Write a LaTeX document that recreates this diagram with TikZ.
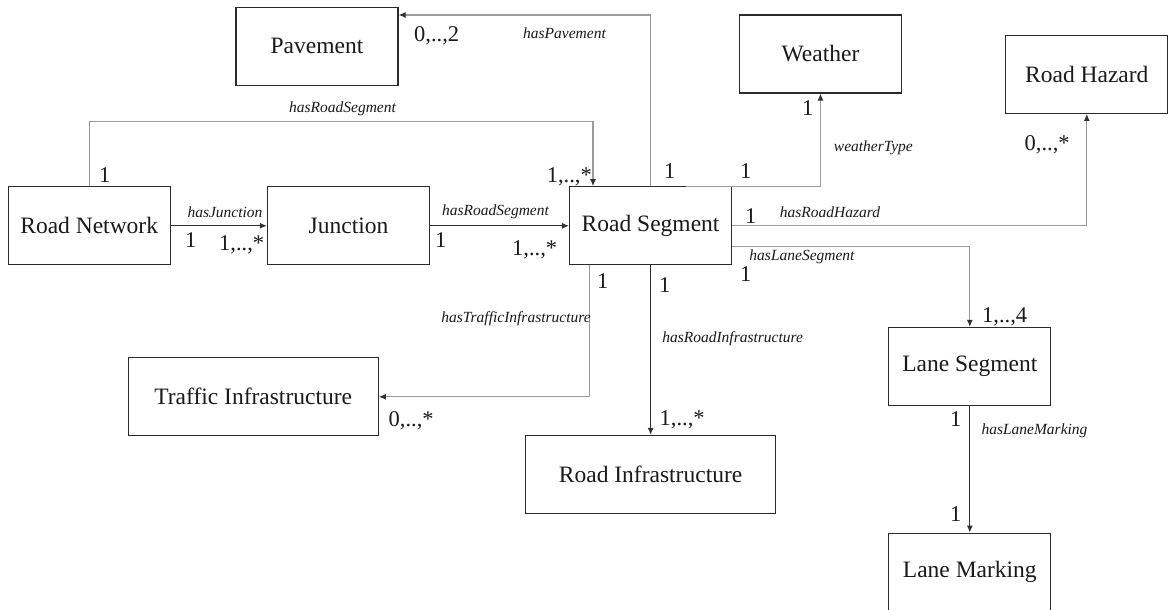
\documentclass[tikz,border=0pt]{standalone}
\usepackage{fontspec}
\setmainfont{Liberation Serif}
\usetikzlibrary{arrows.meta,calc}

\definecolor{boxline}{HTML}{2B2B2B}
\definecolor{darklink}{HTML}{303030}
\definecolor{lightlink}{HTML}{9C9C9C}
\definecolor{ink}{HTML}{1A1A1A}

\tikzset{
  entity/.style={draw=boxline, line width=1.3pt, fill=white, text=ink,
    minimum width=162pt, minimum height=78pt, inner sep=0pt,
    font=\fontsize{23.5}{28}\selectfont},
  wideentity/.style={entity, minimum width=250pt},
  darkrel/.style={draw=darklink, line width=1pt,
    -{Latex[length=7pt,width=6pt]}},
  lightrel/.style={draw=lightlink, line width=1.2pt,
    -{Latex[length=7pt,width=6pt,color=darklink]}},
  role/.style={text=ink, inner sep=0pt, font=\fontsize{15.5}{18}\selectfont\itshape},
  mult/.style={text=ink, inner sep=0pt, font=\fontsize{22.5}{26}\selectfont},
}

\begin{document}
\begin{tikzpicture}[x=1pt, y=-1pt]
\clip (0,0) rectangle (1171,610);
\fill[white] (0,0) rectangle (1171,610);

% classes
\node[entity] (pav) at (317,46.3)   {Pavement};
\node[entity] (wea) at (820.5,53.9) {Weather};
\node[entity] (rh)  at (1086.8,74.2) {Road Hazard};
\node[entity] (rn)  at (89.2,225.8) {Road Network};
\node[entity] (jn)  at (348.5,225.8) {Junction};
\node[entity] (rs)  at (650.6,225.8) {Road Segment};
\node[wideentity] (ti) at (253.2,396.8) {Traffic Infrastructure};
\node[wideentity] (ri) at (650.6,474.5) {Road Infrastructure};
\node[entity] (ls)  at (969.8,366.5) {Lane Segment};
\node[entity] (lm)  at (969.8,572.2) {Lane Marking};

% bend points of the routed associations
\coordinate (rnTop)  at (89.2,121.7);
\coordinate (rsIn)   at (593,121.7);
\coordinate (pavUp)  at (650.6,15);
\coordinate (weaOut) at ($(rs.north west)+(117.3,0)$);
\coordinate (lsOut)  at ($(rs.east)+(0,21)$);
\coordinate (tiOut)  at ($(rs.south west)+(20.8,0)$);

% associations
\draw[lightrel] (rn.north) -- (rnTop) -- (rsIn) -- (rsIn |- rs.north);
\draw[darkrel]  (rn.east) -- (jn.west);
\draw[darkrel]  (jn.east) -- (rs.west);
\draw[lightrel] (rs.north) -- (pavUp) -- (pavUp -| pav.east);
\draw[lightrel] (weaOut) -| (wea.south);
\draw[lightrel] (rs.east) -| (rh.south);
\draw[lightrel] (lsOut) -| (ls.north);
\draw[lightrel] (tiOut) |- (ti.east);
\draw[darkrel]  (rs.south) -- (ri.north);
\draw[darkrel]  (ls.south) -- (lm.north);

% role names
\node[role] (r1)  at (342.5,109) {hasRoadSegment};
\node[role] (r2)  at (225,212)   {hasJunction};
\node[role] (r3)  at (495.5,212) {hasRoadSegment};
\node[role] (r4)  at (564.5,33)  {hasPavement};
\node[role] (r5)  at (873.4,148) {weatherType};
\node[role] (r6)  at (830,212)   {hasRoadHazard};
\node[role] (r7)  at (802,257)   {hasLaneSegment};
\node[role] (r8)  at (516,319)   {hasTrafficInfrastructure};
\node[role] (r9)  at (732.6,338.3) {hasRoadInfrastructure};
\node[role] (r10) at (1034.5,431) {hasLaneMarking};

% multiplicities
\node[mult, anchor=base west] (m1)  at (99,182)    {1};
\node[mult, anchor=base east] (m2)  at (592,182)   {1,..,*};
\node[mult, anchor=base west] (m3)  at (185,247)   {1};
\node[mult, anchor=base west] (m4)  at (219,250.5) {1,..,*};
\node[mult, anchor=base west] (m5)  at (435,247)   {1};
\node[mult, anchor=base west] (m6)  at (512,255)   {1,..,*};
\node[mult, anchor=base west] (m7)  at (414,41.7)  {0,..,2};
\node[mult, anchor=base west] (m8)  at (664,178)   {1};
\node[mult, anchor=base west] (m9)  at (740,178)   {1};
\node[mult, anchor=base west] (m10) at (802,115)   {1};
\node[mult, anchor=base west] (m11) at (1024.5,150) {0,..,*};
\node[mult, anchor=base west] (m12) at (745,223)   {1};
\node[mult, anchor=base west] (m13) at (740,281.7) {1};
\node[mult, anchor=base west] (m14) at (597,288)   {1};
\node[mult, anchor=base west] (m15) at (659,292.7) {1};
\node[mult, anchor=base west] (m16) at (388.5,426.7) {0,..,*};
\node[mult, anchor=base west] (m17) at (659.5,425) {1,..,*};
\node[mult, anchor=base west] (m18) at (982,322.7) {1,..,4};
\node[mult, anchor=base west] (m19) at (950,426.7) {1};
\node[mult, anchor=base west] (m20) at (950,521.7) {1};
\end{tikzpicture}
\end{document}
